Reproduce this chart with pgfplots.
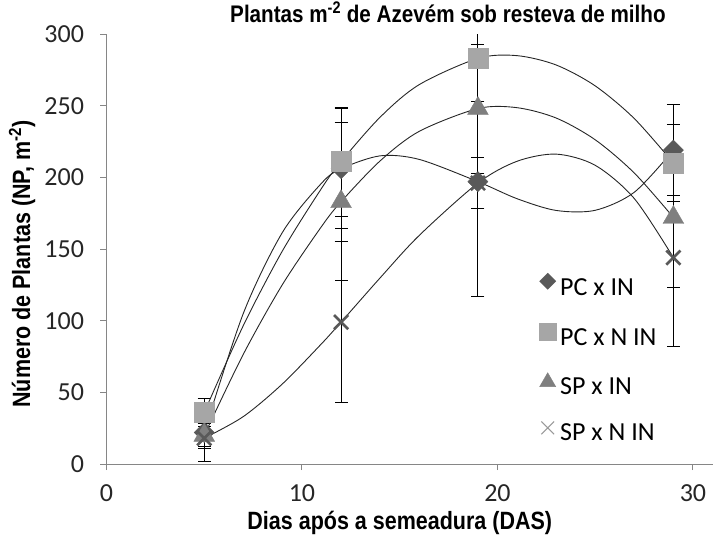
\documentclass[border=0pt]{standalone}
\usepackage{fontspec}
\setmainfont{Carlito}
\newfontfamily\arialb{Liberation Sans}[FakeStretch=0.86]
\usepackage{pgfplots}
\pgfplotsset{compat=1.18}
\definecolor{cdia}{HTML}{595959}
\definecolor{csq}{HTML}{A6A6A6}
\definecolor{ctri}{HTML}{7F7F7F}
\definecolor{cx}{HTML}{595959}
\definecolor{axg}{HTML}{868686}
\begin{document}
\begin{tikzpicture}
\useasboundingbox (-106.5pt,-83pt) rectangle (614.5pt,464pt);
\begin{axis}[
  scale only axis, width=606pt, height=430pt,
  at={(0,0)}, anchor=south west,
  xmin=0, xmax=31, ymin=0, ymax=300,
  axis lines=left, axis line style={-, axg, line width=1pt},
  xtick={0,10,20,30}, ytick={0,50,...,300},
  tick align=outside, major tick length=6pt,
  tick style={axg, line width=1pt},
  /pgf/number format/assume math mode=true,
  ticklabel style={font=\fontsize{26}{30}\selectfont, text=black!85},
  xticklabel style={yshift=-11pt},
  yticklabel style={xshift=-13pt},
  clip=true,
  title={\arialb\bfseries Plantas m\textsuperscript{-2} de Azevém sob resteva de milho},
  title style={at={(axis description cs:0.5635,1.037)}, anchor=center, font=\fontsize{24}{27}\selectfont},
  xlabel={\arialb\bfseries Dias após a semeadura (DAS)},
  xlabel style={at={(axis description cs:0.484,-0.137)}, anchor=center, font=\fontsize{25}{28}\selectfont},
  ylabel={\arialb\bfseries Número de Plantas (NP, m\textsuperscript{-2})},
  ylabel style={at={(axis description cs:-0.1394,0.465)}, anchor=center, rotate=0, font=\fontsize{25}{28}\selectfont},
  legend style={draw=none, fill=none, at={(axis description cs:0.7137,0.4443)}, anchor=north west,
    font=\fontsize{26}{30}\selectfont, row sep=22.5pt, column sep=4pt, inner sep=0pt,
    nodes={inner sep=0pt, text height=17pt, text depth=5pt}},
  legend cell align=left,
  legend image code/.code={\draw[#1] plot coordinates {(0pt,8pt)};},
]
% markers
\addplot[only marks, mark=square*, mark size=7.1pt, color=cdia, mark options={rotate=45},
  legend image post style={mark size=5.7pt}] coordinates {(5,22) (12,206) (19,197) (29,219)};
\addlegendentry{PC x IN}
\addplot[only marks, mark=square*, mark size=10pt, color=csq,
  legend image post style={mark size=8.5pt}] coordinates {(5,36) (12,211) (19,283) (29,210)};
\addlegendentry{PC x N IN}
\addplot[only marks, mark=triangle*, mark size=12pt, color=ctri,
  legend image post style={mark size=9.3pt, yshift=-2pt}] coordinates {(5,20) (12,183) (19,248) (29,172)};
\addlegendentry{SP x IN}
\addplot[only marks, mark=x, mark size=10pt, color=cx, mark options={line width=2.6pt},
  legend image post style={mark size=9pt, yshift=-1.5pt, color=black!40, mark options={line width=1pt}}] coordinates {(5,18) (12,99) (19,196) (29,144)};
\addlegendentry{SP x N IN}
% error bars
\pgfplotsset{every axis plot/.append style={forget plot}}
\addplot[draw=none, mark=none, error bars/.cd, y dir=both, y explicit,
  error bar style={black, line width=1pt}, error mark options={rotate=90, black, mark size=6.5pt, line width=1pt}]
  coordinates {(5,22) +- (0,11) (12,206) +- (0,42) (19,197) +- (0,80) (29,219) +- (0,32)};
\addplot[draw=none, mark=none, error bars/.cd, y dir=both, y explicit,
  error bar style={black, line width=1pt}, error mark options={rotate=90, black, mark size=6.5pt, line width=1pt}]
  coordinates {(5,36) +- (0,10) (12,211) +- (0,38) (19,283) +- (0,30) (29,210) +- (0,27)};
\addplot[draw=none, mark=none, error bars/.cd, y dir=both, y explicit,
  error bar style={black, line width=1pt}, error mark options={rotate=90, black, mark size=6.5pt, line width=1pt}]
  coordinates {(5,20) +- (0,8) (12,183) +- (0,55) (19,248) +- (0,45) (29,172) +- (0,49)};
\addplot[draw=none, mark=none, error bars/.cd, y dir=both, y explicit,
  error bar style={black, line width=1pt}, error mark options={rotate=90, black, mark size=6.5pt, line width=1pt}]
  coordinates {(5,18) +- (0,16) (12,99) +- (0,56) (19,196) +- (0,17.5) (29,144) +- (0,62)};
% trend lines
\addplot[smooth, black!85, line width=0.9pt, mark=none] coordinates {
(5,22) (7,105.1) (9,161.6) (11,195.9) (12,206) (14,215.0) (16,212.5) (19,197) (21,185.1) (23,176.9) (25,177.0) (27,189.6) (29,219)};
\addplot[smooth, black!85, line width=0.9pt, mark=none] coordinates {
(5,36) (7,96.6) (9,148.7) (11,192.3) (12,211) (14,242.0) (16,264.7) (19,283) (21,284.9) (23,278.4) (25,263.8) (27,241.0) (29,210)};
\addplot[smooth, black!85, line width=0.9pt, mark=none] coordinates {
(5,20) (7,76.6) (9,125.2) (11,165.7) (12,183) (14,211.5) (16,232.1) (19,248) (21,248.6) (23,241.4) (25,226.2) (27,203.0) (29,172)};
\addplot[smooth, black!85, line width=0.9pt, mark=none] coordinates {
(5,18) (7,33.1) (9,55.9) (11,83.9) (12,99) (14,129.9) (16,159.5) (19,196) (21,211.2) (23,216.2) (25,208.4) (27,185.2) (29,144)};
\end{axis}
\end{tikzpicture}
\end{document}
